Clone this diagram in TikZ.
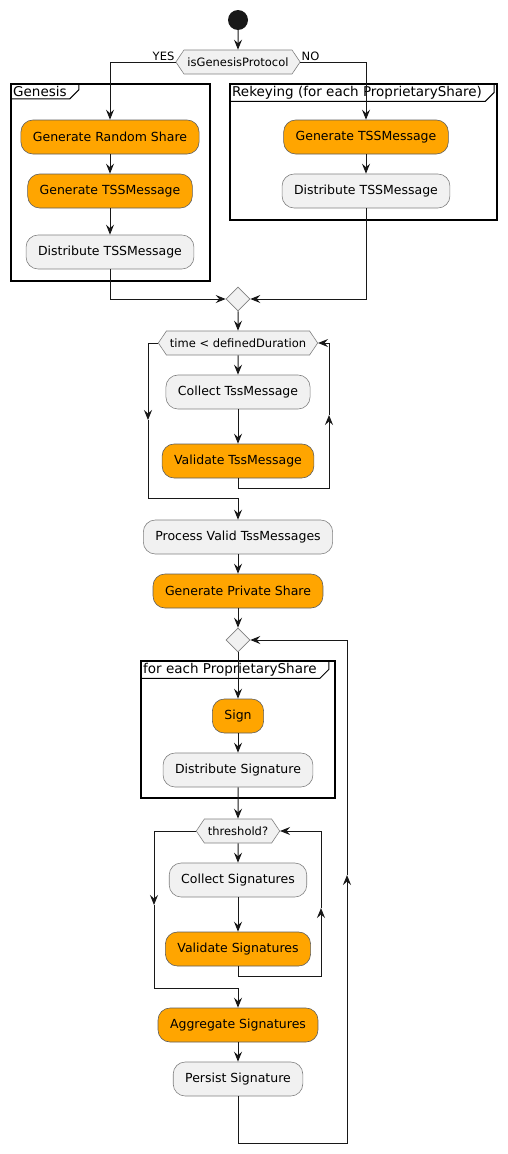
\documentclass[tikz,border=0pt]{standalone}
\usepackage{fontspec}
\setmainfont{DejaVu Sans}
\usetikzlibrary{arrows.meta,shapes.geometric,shapes.symbols,calc}
\definecolor{actO}{HTML}{FFA500}
\definecolor{actG}{HTML}{F1F1F1}
\definecolor{lnA}{HTML}{181818}
\tikzset{
	actA/.style={
		draw=lnA!55, line width=0.6pt, fill=actG, rounded corners=12pt,
		minimum height=34pt, inner xsep=12pt,
		font={\fontsize{12.5}{14}\selectfont}
	},
	actB/.style={actA, fill=actO, draw=lnA!70},
	hexA/.style={
		signal, signal to=east and west, signal pointer angle=112,
		draw=lnA!55, line width=0.6pt, fill=actG, minimum height=24pt, inner xsep=3.5pt,
		font={\fontsize{11.5}{13}\selectfont}
	},
	diaA/.style={diamond, draw=lnA!55, line width=0.6pt, fill=actG, minimum size=24pt, inner sep=0pt},
	frmA/.style={draw=black, line width=1.5pt},
	tabA/.style={anchor=north west, inner sep=2pt, font={\fontsize{13.5}{15}\selectfont}},
	lblA/.style={font={\fontsize{11.5}{13}\selectfont}, inner sep=1pt},
	>={Stealth[length=10pt, width=8pt, inset=3.5pt]},
	arr/.style={->, draw=lnA, line width=1pt},
}
% frame with a title tab
\newcommand{\frameTab}[4]{%
	\draw[frmA] #1 rectangle #2;
	\node[tabA] (#3) at #1 {#4};
	\draw[line width=1pt] (#3.south west) -- ($(#3.south east)+(1pt,0)$)
	-- ($(#3.south east)+(10pt,9pt)$) -- ($(#3.north east)+(10pt,0)$);
}

\begin{document}
\begin{tikzpicture}[x=1pt, y=-1pt]
\useasboundingbox (0,0) rectangle (507,1154);

% frames
\frameTab{(11,84)}{(210,281)}{tGen}{Genesis}
\frameTab{(230,84)}{(497,220)}{tRek}{Rekeying (for each ProprietaryShare)}
\frameTab{(141,661)}{(335,798)}{tSig}{for each ProprietaryShare}

% nodes
\node[circle, fill=lnA, minimum size=20pt, inner sep=0pt] (start) at (238,20) {};
\node[hexA] (isG) at (238,62) {isGenesisProtocol};
\node[lblA, anchor=south east] (yes) at (isG.west) {YES};
\node[lblA, anchor=south west] (no) at (isG.east) {NO};

\node[actB] (genR) at (110,137) {Generate Random Share};
\node[actB] (genL) at (110,191) {Generate TSSMessage};
\node[actA] (disL) at (110,252) {Distribute TSSMessage};
\node[actB] (genK) at (366,137) {Generate TSSMessage};
\node[actA] (disK) at (366,191) {Distribute TSSMessage};
\node[diaA] (mrg) at (238,299) {};

\node[hexA] (whl) at (238,343) {time < definedDuration};
\node[actA] (colT) at (238,392) {Collect TssMessage};
\node[actB] (valT) at (238,461) {Validate TssMessage};
\node[actA] (proc) at (238,537) {Process Valid TssMessages};
\node[actB] (priv) at (238,591) {Generate Private Share};
\node[diaA] (rep) at (238,640) {};

\node[actB] (sign) at (238,716) {Sign};
\node[actA] (disS) at (238,770) {Distribute Signature};
\node[hexA] (thr) at (238,831) {threshold?};
\node[actA] (colS) at (238,880) {Collect Signatures};
\node[actB] (valS) at (238,949) {Validate Signatures};
\node[actB] (agg) at (238,1025) {Aggregate Signatures};
\node[actA] (pers) at (238,1079) {Persist Signature};

% bends
\coordinate (w1r) at (329,415); \coordinate (w1l) at (148,420); \coordinate (w1b) at (148,498);
\coordinate (w2r) at (321,908); \coordinate (w2l) at (154,905); \coordinate (w2b) at (154,988);
\coordinate (lpB) at (347,1143); \coordinate (lpM) at (347,875);

% connectors
\draw[arr] (start) -- (isG);
\draw[arr] (isG.west) -| (genR.north);
\draw[arr] (isG.east) -| (genK.north);
\draw[arr] (genR) -- (genL);
\draw[arr] (genL) -- (disL);
\draw[arr] (genK) -- (disK);
\draw[arr] (disL.south) |- (mrg.west);
\draw[arr] (disK.south) |- (mrg.east);
\draw[arr] (mrg) -- (whl);

\draw[arr] (whl) -- (colT);
\draw[arr] (colT) -- (valT);
\draw[arr] (valT.south) -- ++(0,10) -| (w1r);
\draw[arr] (w1r) |- (whl.east);
\draw[arr] (whl.west) -| (w1l);
\draw[arr] (w1l) -- (w1b) -| (proc.north);
\draw[arr] (proc) -- (priv);
\draw[arr] (priv) -- (rep);

\draw[arr] (rep) -- (sign);
\draw[arr] (sign) -- (disS);
\draw[arr] (disS) -- (thr);
\draw[arr] (thr) -- (colS);
\draw[arr] (colS) -- (valS);
\draw[arr] (valS.south) -- ++(0,10) -| (w2r);
\draw[arr] (w2r) |- (thr.east);
\draw[arr] (thr.west) -| (w2l);
\draw[arr] (w2l) -- (w2b) -| (agg.north);
\draw[arr] (agg) -- (pers);
\draw[arr] (pers.south) |- (lpB) -- (lpM);
\draw[arr] (lpM) |- (rep.east);
\end{tikzpicture}
\end{document}
